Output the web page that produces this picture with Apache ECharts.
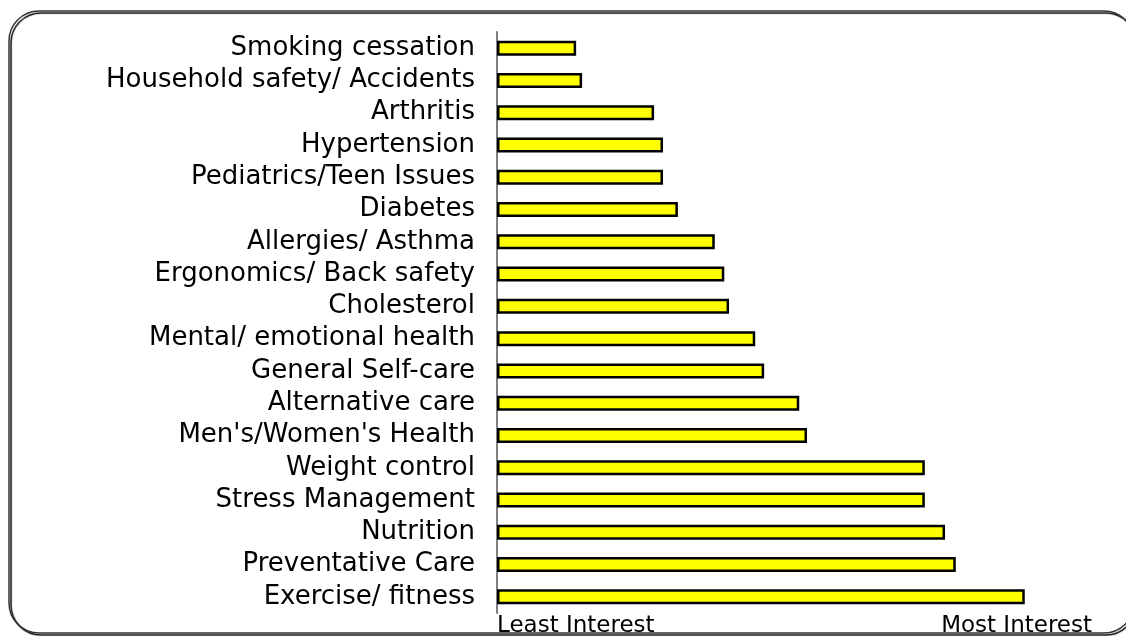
<!DOCTYPE html>
<html>
<head>
<meta charset="utf-8">
<script src="https://cdn.jsdelivr.net/npm/echarts@6/dist/echarts.min.js"></script>
<style>
  html, body { margin: 0; padding: 0; background: #fff; }
  #chart { width: 1126px; height: 636px; }
</style>
</head>
<body>
<div id="chart"></div>
<script>
// topics, top to bottom
var topics = [
  "Smoking cessation",
  "Household safety/ Accidents",
  "Arthritis",
  "Hypertension",
  "Pediatrics/Teen Issues",
  "Diabetes",
  "Allergies/ Asthma",
  "Ergonomics/ Back safety",
  "Cholesterol",
  "Mental/ emotional health",
  "General Self-care",
  "Alternative care",
  "Men's/Women's Health",
  "Weight control",
  "Stress Management",
  "Nutrition",
  "Preventative Care",
  "Exercise/ fitness"
];
// interest score (0 = least, 100 = most)
var interest = [13.3, 14.3, 26.4, 27.9, 27.9, 30.4, 36.6, 38.2, 39.0, 43.4, 44.9, 50.8, 52.1, 71.9, 71.9, 75.3, 77.1, 88.7];
var scaleLabels = ["Least Interest", "Most Interest"];

var font = '"DejaVu Sans", sans-serif';

var myChart = echarts.init(document.getElementById("chart"));
var option = {
  animation: false,
  graphic: [
    {
      type: "rect",
      shape: { x: 9, y: 11, width: 1125, height: 622, r: 30 },
      style: {
        fill: "none",
        stroke: "#333",
        lineWidth: 1.5,
        shadowColor: "#000",
        shadowOffsetX: 2,
        shadowOffsetY: 2,
        shadowBlur: 1
      },
      z: -1
    }
  ],
  grid: { left: 497, right: 34, top: 32, bottom: 23, outerBoundsMode: "none" },
  xAxis: {
    type: "value",
    min: 0,
    max: 100,
    interval: 100,
    axisLine: { show: false },
    axisTick: { show: false },
    splitLine: { show: false },
    axisLabel: {
      margin: 2,
      fontSize: 23,
      fontFamily: font,
      color: "#000",
      alignMinLabel: "left",
      alignMaxLabel: "right",
      formatter: function (v) {
        if (v === 0) return scaleLabels[0];
        if (v === 100) return scaleLabels[1];
        return "";
      }
    }
  },
  yAxis: {
    type: "category",
    inverse: true,
    data: topics,
    axisLine: { show: true, lineStyle: { color: "#808080", width: 2 } },
    axisTick: { show: false },
    axisLabel: {
      interval: 0,
      hideOverlap: false,
      margin: 22,
      fontSize: 26,
      fontFamily: font,
      color: "#000",
      padding: [6, 0, 0, 0]
    }
  },
  series: [
    {
      type: "bar",
      data: interest,
      barWidth: 15,
      itemStyle: {
        color: "#FFFF00",
        borderColor: "#000",
        borderWidth: 2.5
      }
    }
  ]
};
myChart.setOption(option);
</script>
</body>
</html>
